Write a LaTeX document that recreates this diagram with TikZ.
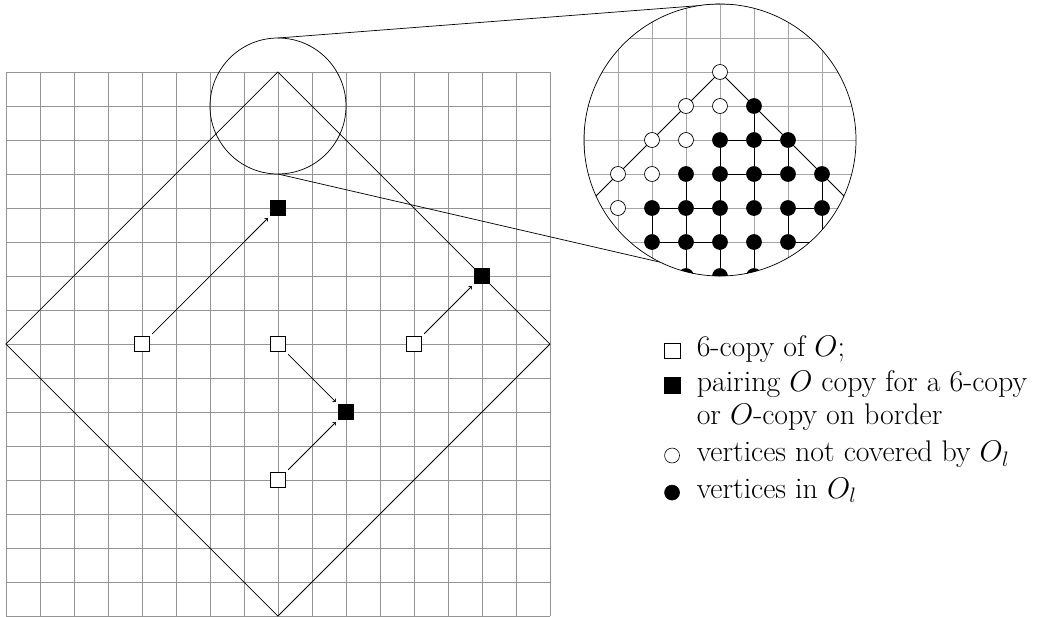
\RequirePackage{fix-cm}
\documentclass[tikz,border=0pt]{standalone}
\usepackage{fontspec}
\begin{document}
\begin{tikzpicture}[x=1cm,y=1cm,
  gridline/.style={draw=black!42, line width=0.6pt},
  frame/.style={draw=black, line width=0.6pt},
  wsq/.style={draw=black, fill=white, minimum size=0.44cm, inner sep=0pt, line width=0.6pt},
  bsq/.style={draw=black, fill=black, minimum size=0.44cm, inner sep=0pt, line width=0.6pt},
  wdot/.style={circle, draw=black, fill=white, minimum size=0.44cm, inner sep=0pt, line width=0.6pt},
  bdot/.style={circle, draw=black, fill=black, minimum size=0.44cm, inner sep=0pt, line width=0.6pt},
  link/.style={->, line width=0.6pt, shorten <=2.8pt, shorten >=2.8pt},
  oedge/.style={draw=black, line width=0.8pt},
  lsq/.style={draw=black, minimum size=0.46cm, inner sep=0pt, line width=0.5pt},
  lcirc/.style={circle, draw=black, minimum size=0.44cm, inner sep=0pt, line width=0.5pt},
  legtext/.style={anchor=base west, inner sep=0pt, font=\fontsize{25}{30}\selectfont},
]
\useasboundingbox (-0.176,-0.029) rectangle (30.412,18.118);
% main grid and diamond
\draw[gridline] (0,0) grid (16,16);
\draw[frame] (8,16) -- (16,8) -- (8,0) -- (0,8) -- cycle;
% copies
\node[wsq] (w1) at (4,8) {};
\node[wsq] (w2) at (8,8) {};
\node[wsq] (w3) at (12,8) {};
\node[wsq] (w4) at (8,4) {};
\node[bsq] (b1) at (8,12) {};
\node[bsq] (b2) at (10,6) {};
\node[bsq] (b3) at (14,10) {};
\draw[link] (w1) -- (b1);
\draw[link] (w2) -- (b2);
\draw[link] (w4) -- (b2);
\draw[link] (w3) -- (b3);
% zoom circles
\draw[frame] (8,15) circle (2);
\coordinate (st) at (8,17);
\coordinate (sb) at (8,13);
\coordinate (bt) at (21,18);
\coordinate (bb) at (21,10);
\draw[frame] (st) -- (bt);
\draw[frame] (sb) -- (bb);
\begin{scope}[shift={(21,14)}]
  \begin{scope}
    \clip (0,0) circle (4);
    \fill[white] (0,0) circle (4);
    \draw[gridline, draw=black!35] (-5,-5) grid (5,5);
    \draw[frame] (-6,-4) -- (0,2) -- (6,-4);
    \foreach \c/\r in {3/6,2/5,3/5,1/4,2/4,0/3,1/3,0/2}
      \node[wdot] (m\c\r) at ({\c-3},{\r-4}) {};
    \foreach \c/\r in {4/5,3/4,4/4,5/4,2/3,3/3,4/3,5/3,6/3,1/2,2/2,3/2,4/2,5/2,6/2,1/1,2/1,3/1,4/1,5/1,6/1,2/0,3/0,4/0}
      \node[bdot] (m\c\r) at ({\c-3},{\r-4}) {};
    \foreach \a/\b in {45/44,34/33,44/43,54/53,23/22,33/32,43/42,63/62,12/11,22/21,32/31,52/51,62/61,21/20,31/30,41/40,34/44,44/54,33/43,43/53,12/22,22/32,52/62,11/21,21/31,51/61}
      \draw[oedge] (m\a) -- (m\b);
  \end{scope}
  \draw[frame] (0,0) circle (4);
\end{scope}
% legend
\node[lsq, fill=white] (s1) at (19.59,7.80) {};
\node[legtext] (t1) at (20.31,7.626) {6-copy of $O$;};
\node[lsq, fill=black] (s2) at (19.59,6.79) {};
\node[legtext] (t2) at (20.31,6.597) {pairing $O$ copy for a 6-copy};
\node[legtext] (t3) at (20.31,5.618) {or $O$-copy on border};
\node[lcirc, fill=white] (s4) at (19.59,4.72) {};
\node[legtext] (t4) at (20.31,4.538) {vertices not covered by $O_l$};
\node[lcirc, fill=black] (s5) at (19.59,3.63) {};
\node[legtext] (t5) at (20.31,3.462) {vertices in $O_l$};
\end{tikzpicture}
\end{document}
